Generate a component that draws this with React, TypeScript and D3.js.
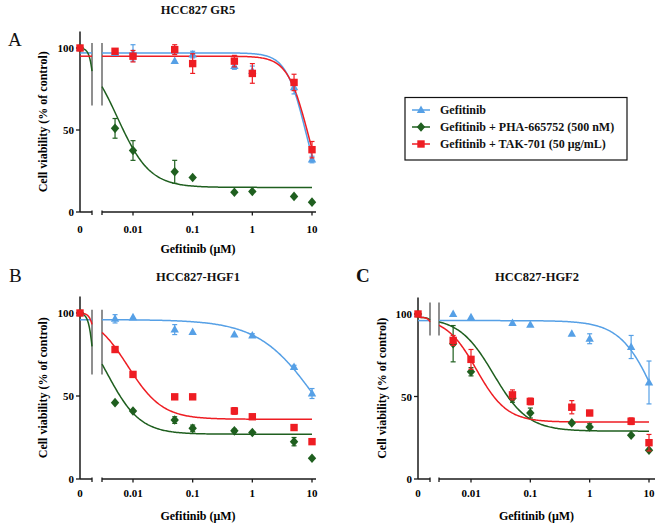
import React from 'react';
import * as d3 from 'd3';

const DOSES = [0, 0.005, 0.01, 0.05, 0.1, 0.5, 1, 5, 10];
const X_TICKS = [0.01, 0.1, 1, 10];
const X_TICK_LABELS = ['0.01', '0.1', '1', '10'];
const Y_TICKS = [0, 50, 100];
const SERIES_NAMES = ['Gefitinib', 'Gefitinib + PHA-665752 (500 nM)', 'Gefitinib + TAK-701 (50 μg/mL)'];
const PANEL_TITLES = ['HCC827 GR5', 'HCC827-HGF1', 'HCC827-HGF2'];
const PANEL_LETTERS = ['A', 'B', 'C'];

// Panel A (HCC827 GR5)
const A_GEF = [100, 97, 97, 92, 96, 89, 86, 76, 32];
const A_GEF_ERR = [0, 1, 5, 0, 2, 2, 3, 4, 2];
const A_PHA = [100, 51, 37.5, 24.5, 21, 12, 12.5, 9.5, 6];
const A_PHA_ERR = [0, 6, 6, 7, 0, 0, 0, 0, 0];
const A_TAK = [100, 98, 95, 99, 90.5, 92, 84.5, 79, 38];
const A_TAK_ERR = [0, 1, 3.5, 3, 6, 3.5, 6, 5, 5];
// fitted curve params: [top, bottom, IC50, hill]
const A_FIT = [[97, 0, 7.9, 2.6], [100, 15, 0.0055, 1.6], [95, 0, 8.6, 2.5]];

// Panel B (HCC827-HGF1)
const B_GEF = [100, 96.5, 97.5, 90, 88.5, 87, 86.5, 67.5, 51.5];
const B_GEF_ERR = [0, 2.5, 0, 3, 0, 0, 1, 1, 3];
const B_PHA = [100, 46, 41, 35.5, 30.5, 29, 28, 22.5, 12.5];
const B_PHA_ERR = [0, 0, 0, 2, 2, 1, 0, 2.5, 0];
const B_TAK = [100, 78, 63, 49.5, 49.5, 41, 37.5, 31, 22.5];
const B_TAK_ERR = [0, 1, 0, 0, 0, 2, 0, 0, 0];
const B_FIT = [[96, 0, 12, 0.9], [100, 27, 0.0037, 1.57], [100, 36, 0.0082, 1.5]];

// Panel C (HCC827-HGF2)
const C_GEF = [100, 100, 98, 94.5, 93.5, 88, 85, 80, 58.5];
const C_GEF_ERR = [0, 0, 0, 0, 0, 0, 3, 7, 13];
const C_PHA = [100, 82, 65, 49, 40, 34, 31.5, 26.5, 17.5];
const C_PHA_ERR = [0, 11, 2.5, 2.5, 3, 0, 2, 0, 0];
const C_TAK = [100, 84, 72.5, 51, 47, 43.5, 40, 35, 22];
const C_TAK_ERR = [0, 3, 6, 3, 2, 4, 1.5, 2, 5];
const C_FIT = [[96, 0, 13.8, 1.44], [98, 29, 0.024, 1.5], [98, 34.5, 0.0124, 1.7]];

const COLORS = ['#56a0e6', '#1f5f1f', '#ee1d23'];
const FONT = "'Liberation Serif', 'Times New Roman', serif";
const ZERO_AS = 1e-4;
const SEG1_MAX = 0.002;

const PANELS = [
  { values: [A_GEF, A_PHA, A_TAK], errs: [A_GEF_ERR, A_PHA_ERR, A_TAK_ERR], fits: A_FIT,
    lay: { x0: 80, s1End: 92, s2Start: 102, x001: 133, x10: 312, xEnd: 316, y0: 212, y100: 48,
      brTop: 103, brBot: 65, titleX: 198, titleY: 14, letterX: 8, letterY: 46, letterBold: false, yLabelX: 47, tickY: 233, xLabelY: 253 } },
  { values: [B_GEF, B_PHA, B_TAK], errs: [B_GEF_ERR, B_PHA_ERR, B_TAK_ERR], fits: B_FIT,
    lay: { x0: 80, s1End: 92, s2Start: 102, x001: 133, x10: 312, xEnd: 316, y0: 479, y100: 313,
      brTop: 102, brBot: 63, titleX: 198, titleY: 281, letterX: 9, letterY: 282, letterBold: false, yLabelX: 47, tickY: 497, xLabelY: 520 } },
  { values: [C_GEF, C_PHA, C_TAK], errs: [C_GEF_ERR, C_PHA_ERR, C_TAK_ERR], fits: C_FIT,
    lay: { x0: 418, s1End: 430, s2Start: 439, x001: 471, x10: 649, xEnd: 655, y0: 479, y100: 314,
      brTop: 107, brBot: 87, titleX: 537, titleY: 281, letterX: 356, letterY: 282, letterBold: true, yLabelX: 386, tickY: 497, xLabelY: 520 } },
];

function fourPL(x: number, p: number[]) {
  const [top, bottom, ic50, hill] = p;
  return bottom + (top - bottom) / (1 + Math.pow(x / ic50, hill));
}

function Marker({ kind, x, y, color }: { kind: number; x: number; y: number; color: string }) {
  if (kind === 0) {
    return <path d={`M${x},${y - 4.5}L${x + 4.2},${y + 3}L${x - 4.2},${y + 3}Z`} fill={color} />;
  }
  if (kind === 1) {
    return <path d={`M${x},${y - 4.8}L${x + 4.2},${y}L${x},${y + 4.8}L${x - 4.2},${y}Z`} fill={color} />;
  }
  return <rect x={x - 3.7} y={y - 3.7} width={7.4} height={7.4} fill={color} />;
}

function Panel({ idx }: { idx: number }) {
  const P = PANELS[idx];
  const L = P.lay;
  const y = d3.scaleLinear().domain([0, 100]).range([L.y0, L.y100]);
  const x2 = d3.scaleLog().domain([0.01, 10]).range([L.x001, L.x10]);
  const x1 = d3.scaleLog().domain([ZERO_AS, SEG1_MAX]).range([L.x0, L.s1End]);
  const xPos = (d: number) => (d === 0 ? L.x0 : d <= SEG1_MAX ? x1(d) : x2(d));
  const s2Min = x2.invert(L.s2Start);
  const line = d3.line<[number, number]>().x(d => d[0]).y(d => d[1]).curve(d3.curveLinear);
  const seg1Pts = d3.range(0, 61).map(i => Math.pow(10, Math.log10(ZERO_AS) + (i / 60) * (Math.log10(SEG1_MAX) - Math.log10(ZERO_AS))));
  const seg2Pts = d3.range(0, 201).map(i => Math.pow(10, Math.log10(s2Min) + (i / 200) * (1 - Math.log10(s2Min))));
  const axisColor = '#1a1a1a';
  const tickFont = { fontFamily: FONT, fontWeight: 700, fontSize: 11 } as const;

  return (
    <g>
      <text x={L.letterX} y={L.letterY} fontFamily={FONT} fontSize={19} fontWeight={L.letterBold ? 700 : 400} fill="#111">{PANEL_LETTERS[idx]}</text>
      <text x={L.titleX} y={L.titleY} textAnchor="middle" fontFamily={FONT} fontWeight={700} fontSize={12.5} fill="#111">{PANEL_TITLES[idx]}</text>
      {/* y axis */}
      <line x1={L.x0} x2={L.x0} y1={y(110)} y2={L.y0} stroke={axisColor} strokeWidth={1.5} />
      {Y_TICKS.map(t => (
        <g key={t}>
          <line x1={L.x0 - 4} x2={L.x0} y1={y(t)} y2={y(t)} stroke={axisColor} strokeWidth={1.3} />
          <text x={L.x0 - 6} y={y(t) + 4} textAnchor="end" {...tickFont}>{t}</text>
        </g>
      ))}
      {/* x axis (broken) */}
      <line x1={L.x0} x2={L.s1End} y1={L.y0} y2={L.y0} stroke={axisColor} strokeWidth={1.5} />
      <line x1={L.s2Start} x2={L.xEnd} y1={L.y0} y2={L.y0} stroke={axisColor} strokeWidth={1.5} />
      <line x1={L.s1End} x2={L.s1End} y1={L.y0 - 1.5} y2={L.y0 + 3} stroke={axisColor} strokeWidth={1.3} />
      <line x1={L.s2Start} x2={L.s2Start} y1={L.y0 - 1.5} y2={L.y0 + 3} stroke={axisColor} strokeWidth={1.3} />
      {X_TICKS.map((t, i) => (
        <g key={t}>
          <line x1={x2(t)} x2={x2(t)} y1={L.y0} y2={L.y0 + 3.5} stroke={axisColor} strokeWidth={1.3} />
          <text x={x2(t)} y={L.tickY} textAnchor="middle" {...tickFont}>{X_TICK_LABELS[i]}</text>
        </g>
      ))}
      <text x={L.x0} y={L.tickY} textAnchor="middle" {...tickFont}>0</text>
      <text x={(L.x0 + L.xEnd) / 2 + 0} y={L.xLabelY} textAnchor="middle" fontFamily={FONT} fontWeight={700} fontSize={12}>Gefitinib (μM)</text>
      <text transform={`translate(${L.yLabelX},${y(55)}) rotate(-90)`} textAnchor="middle" fontFamily={FONT} fontWeight={700} fontSize={12}>Cell viability (% of control)</text>
      {/* break lines */}
      <line x1={L.s1End} x2={L.s1End} y1={y(L.brTop)} y2={y(L.brBot)} stroke="#333" strokeWidth={1.1} />
      <line x1={L.s2Start} x2={L.s2Start} y1={y(L.brTop)} y2={y(L.brBot)} stroke="#333" strokeWidth={1.1} />
      {/* curves */}
      {P.fits.map((f, s) => (
        <g key={'c' + s}>
          <path d={line(seg1Pts.map(d => [x1(d), y(fourPL(d, f))]))!} fill="none" stroke={COLORS[s]} strokeWidth={1.5} />
          <path d={line(seg2Pts.map(d => [x2(d), y(fourPL(d, f))]))!} fill="none" stroke={COLORS[s]} strokeWidth={1.5} />
        </g>
      ))}
      {/* error bars and markers */}
      {[0, 1, 2].map(s => (
        <g key={'s' + s}>
          {DOSES.map((d, i) => {
            const e = P.errs[s][i];
            if (!e) return null;
            const cx = xPos(d);
            return (
              <g key={i} stroke={COLORS[s]} strokeWidth={1.2}>
                <line x1={cx} x2={cx} y1={y(P.values[s][i] + e)} y2={y(P.values[s][i] - e)} />
                <line x1={cx - 2.5} x2={cx + 2.5} y1={y(P.values[s][i] + e)} y2={y(P.values[s][i] + e)} />
                <line x1={cx - 2.5} x2={cx + 2.5} y1={y(P.values[s][i] - e)} y2={y(P.values[s][i] - e)} />
              </g>
            );
          })}
          {DOSES.map((d, i) => (
            <Marker key={i} kind={s} x={xPos(d)} y={y(P.values[s][i])} color={COLORS[s]} />
          ))}
        </g>
      ))}
    </g>
  );
}

function Legend() {
  const bx = 405, by = 97.5, bw = 222, bh = 62.5;
  const rows = [110, 127, 144];
  return (
    <g>
      <rect x={bx} y={by} width={bw} height={bh} fill="white" stroke="#111" strokeWidth={1.2} />
      {SERIES_NAMES.map((n, i) => (
        <g key={n}>
          <line x1={412} x2={430} y1={rows[i]} y2={rows[i]} stroke={COLORS[i]} strokeWidth={1.5} />
          <Marker kind={i} x={421} y={rows[i]} color={COLORS[i]} />
          <text x={440} y={rows[i] + 4} fontFamily={FONT} fontWeight={700} fontSize={12} fill="#111">{n}</text>
        </g>
      ))}
    </g>
  );
}

export default function App() {
  return (
    <svg width={662} height={525} style={{ position: 'absolute', left: 0, top: 0, background: 'white' }}>
      <rect width={662} height={525} fill="white" />
      <Panel idx={0} />
      <Panel idx={1} />
      <Panel idx={2} />
      <Legend />
    </svg>
  );
}
